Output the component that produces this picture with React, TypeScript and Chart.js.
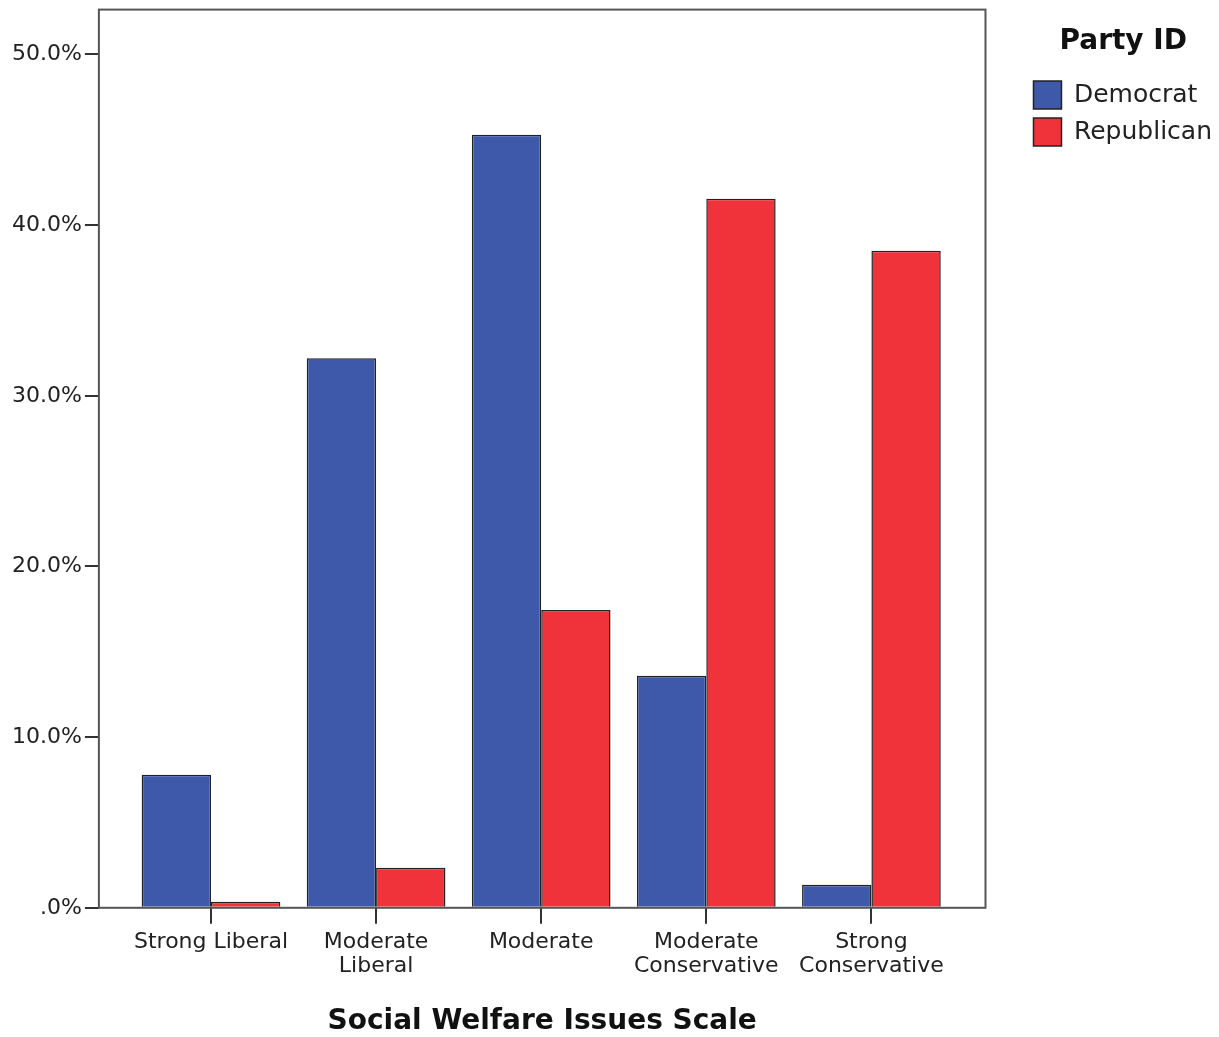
import React, { useEffect, useRef } from "react";
import { Chart, registerables } from "chart.js";

Chart.register(...registerables);

const categories: string[][] = [
  ["Strong Liberal"],
  ["Moderate", "Liberal"],
  ["Moderate"],
  ["Moderate", "Conservative"],
  ["Strong", "Conservative"],
];
const democrat: number[] = [7.8, 32.2, 45.3, 13.6, 1.35];
const republican: number[] = [0.35, 2.35, 17.45, 41.55, 38.5];
const yTickValues: number[] = [0, 10, 20, 30, 40, 50];
const yTickLabels: string[] = [".0%", "10.0%", "20.0%", "30.0%", "40.0%", "50.0%"];

const FONT = "'DejaVu Sans', sans-serif";

const framePlugin = {
  id: "frame",
  afterDraw(chart: any) {
    const { ctx, chartArea } = chart;
    ctx.save();
    ctx.strokeStyle = "#555555";
    ctx.lineWidth = 2;
    ctx.strokeRect(chartArea.left, chartArea.top, chartArea.right - chartArea.left, chartArea.bottom - chartArea.top);
    ctx.restore();
  },
};

export default function App() {
  const ref = useRef<HTMLCanvasElement | null>(null);
  useEffect(() => {
    if (!ref.current) return;
    const chart = new Chart(ref.current, {
      type: "bar",
      data: {
        datasets: [
          {
            label: "Democrat",
            data: democrat.map((v, i) => ({ x: i, y: v })),
            backgroundColor: "#3E58AA",
            borderColor: "#222222",
            borderWidth: 1.5,
          },
          {
            label: "Republican",
            data: republican.map((v, i) => ({ x: i, y: v })),
            backgroundColor: "#F0323A",
            borderColor: "#222222",
            borderWidth: 1.5,
          },
        ],
      },
      options: {
        animation: false,
        responsive: false,
        devicePixelRatio: 1,
        categoryPercentage: 0.84,
        barPercentage: 1,
        layout: { padding: { top: 7, left: 9, right: -3, bottom: 0 } },
        plugins: {
          tooltip: { enabled: false },
          legend: {
            position: "right",
            align: "start",
            title: {
              display: true,
              text: "Party ID",
              color: "#111",
              font: { family: FONT, size: 28, weight: "bold", lineHeight: 1.2 },
              padding: { top: 21, bottom: 10.4 },
            },
            labels: {
              color: "#222",
              font: { family: FONT, size: 25 },
              boxWidth: 28,
              boxHeight: 28,
              padding: 9,
            },
          },
        },
        scales: {
          x: {
            type: "linear",
            offset: false,
            min: -0.679,
            max: 4.691,
            afterBuildTicks: (scale: any) => {
              scale.ticks = categories.map((_, i) => ({ value: i }));
            },
            ticks: {
              autoSkip: false,
              maxRotation: 0,
              minRotation: 0,
              color: "#222",
              padding: 6,
              font: { family: FONT, size: 22, lineHeight: 1.1 },
              callback: (value: any) => categories[Math.round(Number(value))] ?? "",
            },
            grid: { display: true, offset: false, drawOnChartArea: false, drawTicks: true, tickLength: 16, color: "#333", lineWidth: 2 },
            border: { display: false },
            title: {
              display: true,
              text: "Social Welfare Issues Scale",
              color: "#111",
              font: { family: FONT, size: 28, weight: "bold", lineHeight: 1.1 },
              padding: { top: 22, bottom: 0 },
            },
          },
          y: {
            type: "linear",
            min: 0,
            max: 52.63,
            afterBuildTicks: (scale: any) => {
              scale.ticks = yTickValues.map((v) => ({ value: v }));
            },
            ticks: {
              color: "#222",
              padding: 3,
              font: { family: FONT, size: 22, lineHeight: 0.6 },
              callback: (value: any) => yTickLabels[yTickValues.indexOf(Number(value))] ?? "",
            },
            grid: { display: true, drawOnChartArea: false, drawTicks: true, tickLength: 14, color: "#333", lineWidth: 2 },
            border: { display: false },
          },
          gap: {
            type: "linear",
            position: "right",
            display: true,
            ticks: { display: false },
            grid: { display: false },
            border: { display: false },
            afterFit: (scale: any) => {
              scale.width = 39;
              scale.paddingTop = 0;
              scale.paddingBottom = 0;
            },
          },
        },
      } as any,
      plugins: [framePlugin],
    });
    return () => chart.destroy();
  }, []);
  return (
    <div style={{ position: "fixed", left: 0, top: 0, width: 1219, height: 1037, background: "#fff" }}>
      <canvas ref={ref} width={1219} height={1037} style={{ display: "block" }} />
    </div>
  );
}
